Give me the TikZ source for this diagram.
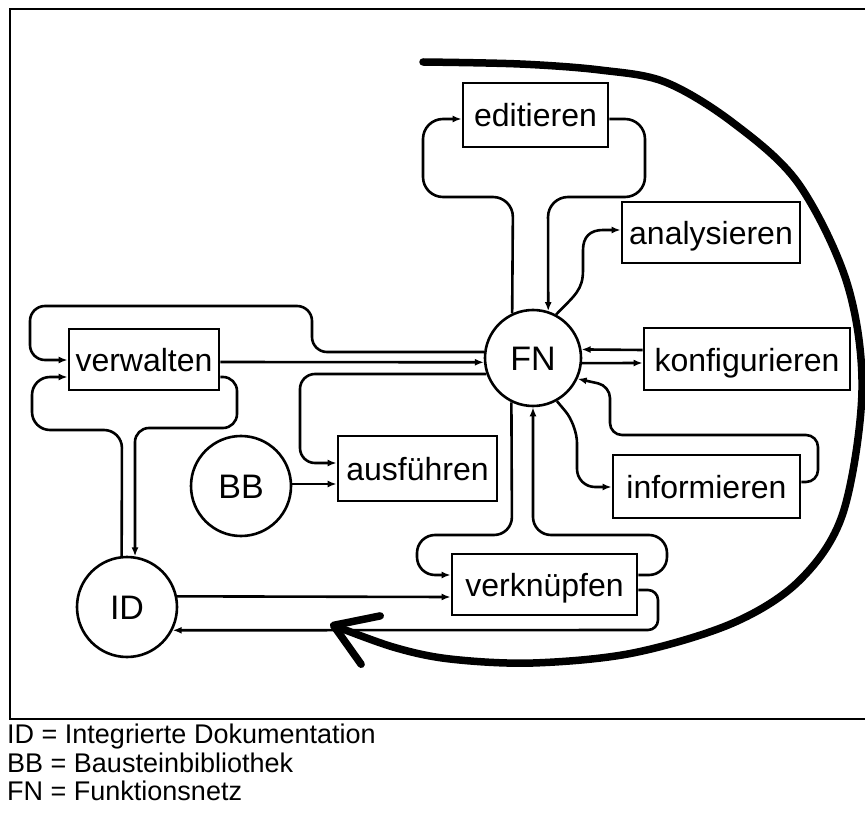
\documentclass[tikz,border=0pt]{standalone}
\usepackage{fontspec}
\setmainfont{Liberation Sans}
\usetikzlibrary{arrows.meta,calc}
\begin{document}
\begin{tikzpicture}[x=1pt,y=-1pt,
  box/.style={draw,line width=2.8pt,inner sep=0pt,text height=24pt,text depth=0pt,font=\fontsize{32}{36}\selectfont},
  circ/.style={draw,circle,line width=2.6pt,inner sep=0pt,text height=25pt,text depth=0pt,font=\fontsize{34}{38}\selectfont},
  conn/.style={line width=2.6pt,rounded corners=15pt},
  arr/.style={-{Latex[length=9pt,width=7pt]}},
  legend/.style={anchor=base west,inner sep=0pt,font=\fontsize{27}{30}\selectfont}
]
\useasboundingbox (0,0) rectangle (865,818);
\draw[line width=2.4pt] (866,9) -- (10,9) -- (10,719) -- (866,719);

% nodes
\node[box,minimum width=145pt,minimum height=64pt] (ed) at (535.5,115) {editieren};
\node[box,minimum width=178pt,minimum height=61pt] (an) at (711,232.5) {analysieren};
\node[box,minimum width=206pt,minimum height=62pt] (ko) at (747,359) {konfigurieren};
\node[box,minimum width=187pt,minimum height=63pt] (in) at (706.5,486.5) {informieren};
\node[box,minimum width=185pt,minimum height=61pt] (vk) at (544.5,584.5) {verknüpfen};
\node[box,minimum width=159pt,minimum height=65pt] (au) at (417.5,468.5) {ausführen};
\node[box,minimum width=150pt,minimum height=61pt] (vw) at (144,359.5) {verwalten};
\node[circ,minimum size=96pt] (FN) at (533,358) {FN};
\node[circ,minimum size=100pt] (BB) at (241,486) {BB};
\node[circ,minimum size=100pt] (ID) at (127,607) {ID};

% verwalten <-> FN
\draw[conn,arr] (FN.173) -- (312,352) -- (312,306) -- (30,306) -- (30,360) -- (vw.west |- 0,360);
\draw[conn,arr] (vw.east |- 0,362) -- (FN.185);
% FN -> ausfuehren, BB -> ausfuehren
\draw[conn,arr] (FN.199) -- (300,374) -- (300,463) -- (au.west |- 0,463);
\draw[conn,arr] (BB.east |- 0,484) -- (au.west |- 0,484);
% ID <-> verwalten
\draw[conn,rounded corners=18pt,arr] (ID.96) -- (122,430) -- (32,430) -- (32,377) -- (vw.west |- 0,377);
\draw[conn,rounded corners=14pt,arr] (vw.east |- 0,377) -- (237,377) -- (237,428) -- (135,428) -- (ID.81);
% editieren
\draw[conn,rounded corners=20pt,arr] (FN.115) -- (513,197) -- (423,197) -- (423,119) -- (ed.west |- 0,119);
\draw[conn,rounded corners=20pt,arr] (ed.east |- 0,119) -- (645,119) -- (645,197) -- (548,197) -- (FN.72);
% analysieren
\draw[line width=2.6pt,arr] (FN.62) .. controls (575,295) and (583,290) .. (583,270) -- (583,250) .. controls (583,237) and (590,230) .. (603,230) -- (an.west |- 0,230);
% konfigurieren
\draw[conn,arr] (ko.west |- 0,350) -- (FN.10);
\draw[conn,arr] (FN.354) -- (ko.west |- 0,363);
% informieren
\draw[conn,rounded corners=12pt,arr] (in.east |- 0,482) -- (818,482) -- (818,435) -- (610,435) -- (610,386) -- (FN.335);
\draw[conn,rounded corners=18pt,arr] (FN.299) -- (577,425) -- (577,487) -- (in.west |- 0,487);
% verknuepfen
\draw[conn,rounded corners=18pt,arr] (FN.244) -- (512,535) -- (417,535) -- (417,575) -- (vk.west |- 0,575);
\draw[conn,rounded corners=18pt,arr] (vk.east |- 0,575) -- (667,575) -- (667,535) -- (533,535) -- (FN.270);
% ID <-> verknuepfen
\draw[conn,arr] (ID.12) -- (vk.west |- 0,597);
\draw[conn,rounded corners=10pt,arr] (vk.east |- 0,590) -- (658,590) -- (658,630) -- (ID.333);

% big cycle arrow
\draw[line width=7.5pt,line cap=round,-{Straight Barb[length=40pt,width=52pt,round]}] plot[smooth,tension=0.55] coordinates {(423,62) (520,64) (600,70) (665,82) (732,122) (798,183) (847,283) (862,390) (843,513) (800,580) (733,623) (633,653) (533,663) (450,659) (393,647) (330,624)};

% legend
\node[legend] (l1) at (7,743) {ID = Integrierte Dokumentation};
\node[legend] (l2) at (7,772) {BB = Bausteinbibliothek};
\node[legend] (l3) at (7,800) {FN = Funktionsnetz};
\end{tikzpicture}
\end{document}
